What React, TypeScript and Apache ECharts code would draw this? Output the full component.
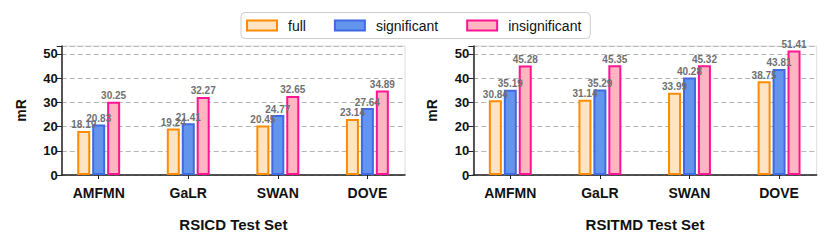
import React, { useEffect, useRef } from "react";
import * as echarts from "echarts";

const categories = ["AMFMN", "GaLR", "SWAN", "DOVE"];
const seriesNames = ["full", "significant", "insignificant"];
const rsicdFull = [18.19, 19.24, 20.45, 23.14];
const rsicdSignificant = [20.83, 21.41, 24.77, 27.64];
const rsicdInsignificant = [30.25, 32.27, 32.65, 34.89];
const rsitmdFull = [30.84, 31.14, 33.99, 38.75];
const rsitmdSignificant = [35.19, 35.29, 40.28, 43.81];
const rsitmdInsignificant = [45.28, 45.35, 45.32, 51.41];
const yTicks = [0, 10, 20, 30, 40, 50];
const panelTitles = ["RSICD Test Set", "RSITMD Test Set"];

const fills = ["#FFE4C4", "#6495ED", "#FFB6C1"];
const edges = ["#FF8C00", "#4169E1", "#FF1493"];
const FONT = "'Liberation Sans', Arial, Helvetica, sans-serif";

export default function App() {
  const ref = useRef<HTMLDivElement>(null);
  useEffect(() => {
    if (!ref.current) return;
    const chart = echarts.init(ref.current, undefined, { renderer: "svg" });
    const panels = [
      [rsicdFull, rsicdSignificant, rsicdInsignificant],
      [rsitmdFull, rsitmdSignificant, rsitmdInsignificant],
    ];
    const grids = [
      { left: 61.7, right: 425, top: 46, bottom: 70 },
      { left: 473.3, right: 13.3, top: 46, bottom: 70 },
    ].map((g) => ({ ...g, show: true, borderColor: "#dddddd", borderWidth: 1, backgroundColor: "transparent" }));

    const xAxes = panelTitles.map((t, i) => ({
      type: "value",
      gridIndex: i,
      min: -0.413,
      max: 3.42,
      name: t,
      nameLocation: "middle",
      nameGap: 42,
      nameTextStyle: { fontFamily: FONT, fontWeight: "bold", fontSize: 15, color: "#111" },
      axisLine: { show: true, onZero: false, lineStyle: { color: "#222", width: 1.5 } },
      axisTick: { show: true, length: 4, customValues: [0, 1, 2, 3], lineStyle: { color: "#222", width: 1 } },
      axisLabel: {
        customValues: [0, 1, 2, 3],
        formatter: (v: number) => categories[Math.round(v)] ?? "",
        fontFamily: FONT,
        fontWeight: "bold",
        fontSize: 14,
        color: "#111",
        margin: 11,
      },
      splitLine: { show: false },
    }));

    const yAxes = [0, 1].map((i) => ({
      type: "value",
      gridIndex: i,
      min: 0,
      max: 53.3,
      interval: 10,
      name: "mR",
      nameLocation: "middle",
      nameGap: 34,
      nameTextStyle: { fontFamily: FONT, fontWeight: "bold", fontSize: 14, color: "#111" },
      axisLine: { show: true, onZero: false, lineStyle: { color: "#222", width: 1.5 } },
      axisTick: { show: true, length: 5, lineStyle: { color: "#222", width: 1 } },
      axisLabel: {
        fontFamily: FONT,
        fontWeight: "bold",
        fontSize: 13,
        color: "#111",
        margin: 4,
        formatter: (v: number) => (yTicks.includes(v) ? String(v) : ""),
      },
      splitLine: { show: true, lineStyle: { color: "#b5b5b5", type: [5, 3], width: 1.2 } },
    }));

    const series: any[] = [];
    panels.forEach((panel, pi) => {
      panel.forEach((vals, si) => {
        series.push({
          type: "bar",
          name: seriesNames[si],
          xAxisIndex: pi,
          yAxisIndex: pi,
          barWidth: 13,
          barGap: "15%",
          data: vals.map((v, ci) => [ci, v]),
          itemStyle: { color: fills[si], borderColor: edges[si], borderWidth: 2 },
          label: {
            show: true,
            position: "top",
            distance: 1,
            fontFamily: FONT,
            fontSize: 10,
            fontWeight: "bold",
            color: "#707070",
            formatter: (p: any) => p.value[1].toFixed(2),
          },
        });
      });
    });

    chart.setOption({
      animation: false,
      legend: {
        data: seriesNames,
        left: 241,
        top: 12.5,
        itemWidth: 30,
        itemHeight: 10,
        itemGap: 28,
        padding: [6, 9, 6, 5],
        borderColor: "#cccccc",
        borderWidth: 1,
        borderRadius: 4,
        textStyle: { fontFamily: FONT, fontSize: 14, color: "#111", padding: [0, 0, 0, 6] },
        icon: "rect",
      },
      grid: grids,
      xAxis: xAxes,
      yAxis: yAxes,
      series,
    });
    return () => chart.dispose();
  }, []);
  return <div ref={ref} style={{ position: "absolute", left: 0, top: 0, width: 830, height: 245 }} />;
}
